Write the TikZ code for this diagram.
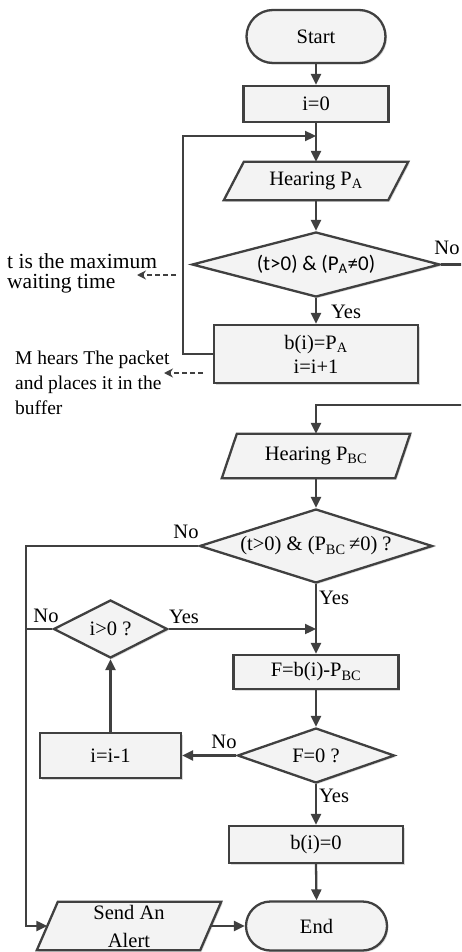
\documentclass[tikz,border=0pt]{standalone}
\usepackage{fontspec}
\setmainfont{Liberation Serif}
\newfontfamily\calib{Carlito}
\usetikzlibrary{arrows.meta,shapes.geometric,shadows,backgrounds}
\definecolor{lc}{HTML}{404040}
\definecolor{fl}{HTML}{F3F3F3}
\newcommand\parashape[2]{\draw[shp] ([xshift=#2pt]#1.north west) -- ([xshift=#2pt]#1.north east) -- ([xshift=-#2pt]#1.south east) -- ([xshift=-#2pt]#1.south west) -- cycle;}
\begin{document}
\begin{tikzpicture}[x=1pt,y=-1pt,
  every node/.style={font=\fontsize{20.5}{24}\selectfont, text=black},
  shp/.style={draw=lc, line width=2.3pt, fill=fl, drop shadow={shadow xshift=1.5pt,shadow yshift=-1.5pt,opacity=0.3}},
  box/.style={shp, rectangle, inner sep=0pt, align=center},
  term/.style={box, rounded corners=24pt},
  dia/.style={shp, diamond, inner sep=0pt},
  pbox/.style={rectangle, inner sep=0pt, align=center},
  arr/.style={draw=lc, line width=2.3pt, -{Triangle[length=11pt,width=10pt]}},
  wire/.style={draw=lc, line width=2.3pt},
  dsh/.style={draw=lc, line width=2.2pt, dash pattern=on 5pt off 3pt, -{Stealth[length=9pt,width=9pt]}},
  lbl/.style={inner sep=0pt}
]
\path[use as bounding box, clip] (0,0) rectangle (461,952);

% nodes
\node[term, minimum width=139pt, minimum height=53pt, rounded corners=26.5pt] (start) at (316,36.5) {Start};
\node[box, minimum width=145pt, minimum height=36pt] (i0) at (316,104) {i=0};
\node[pbox, minimum width=164pt, minimum height=38pt] (hA) at (316,181) {Hearing P\textsubscript{A}};
\node[dia, minimum width=248pt, minimum height=65pt, shape aspect=3.8, font=\calib\fontsize{21}{24}\selectfont] (d1) at (316,264.5) {(t>0) \& (P\textsubscript{A}≠0)};
\node[box, minimum width=204pt, minimum height=58pt] (bA) at (316,354) {b(i)=P\textsubscript{A}\\i=i+1};
\node[pbox, minimum width=173pt, minimum height=44pt] (hBC) at (316,456) {Hearing P\textsubscript{BC}};
\node[dia, minimum width=233pt, minimum height=74pt, shape aspect=3.15] (d2) at (316,546) {(t>0) \& (P\textsubscript{BC}\,≠0) ?};
\node[dia, minimum width=114pt, minimum height=58pt, shape aspect=1.97] (d3) at (110.5,629) {i>0 ?};
\node[box, minimum width=165pt, minimum height=34pt] (fB) at (316,672) {F=b(i)-P\textsubscript{BC}};
\node[dia, minimum width=157pt, minimum height=55pt, shape aspect=2.85] (d4) at (316,755.5) {F=0 ?};
\node[box, minimum width=141pt, minimum height=45pt] (dec) at (110.5,755.5) {i=i-1};
\node[box, minimum width=174pt, minimum height=37pt] (b0) at (316,844.5) {b(i)=0};
\node[term, minimum width=141pt, minimum height=49pt, rounded corners=24.5pt] (end) at (316.5,926) {End};
\node[pbox, minimum width=163pt, minimum height=48pt, font=\fontsize{20.5}{28}\selectfont] (alert) at (129,926) {Send An\\Alert};

\begin{pgfonlayer}{background}
\parashape{hA}{10}
\parashape{hBC}{7.5}
\parashape{alert}{10.5}
\end{pgfonlayer}

% annotations
\node[lbl, anchor=west, align=left, font=\fontsize{21.5}{20}\selectfont] (t1) at (7,273) {t is the maximum\\waiting time};
\node[lbl, anchor=west, align=left, font=\fontsize{19.5}{25}\selectfont] (m1) at (15,383) {M hears The packet\\and places it in the\\buffer};
\coordinate (da1s) at (176,275); \coordinate (da1e) at (137,275);
\coordinate (da2s) at (203,373); \coordinate (da2e) at (164,373);
\draw[dsh] (da1s) -- (da1e);
\draw[dsh] (da2s) -- (da2e);

% connectors
\coordinate (mA) at (316,136);
\coordinate (lpA) at (183,136);
\draw[arr] (start.south) -- (i0.north);
\draw[arr] (i0.south) -- (hA.north);
\draw[arr] (bA.west) -| (lpA) -- (mA);
\draw[arr] (hA.south) -- (d1.north);
\draw[arr] (d1.south) -- (bA.north);
\coordinate (rA) at (475,264.5);
\coordinate (rB) at (475,405);
\draw[arr] (d1.east) -- (rA) -- (rB) -| (hBC.north);
\draw[arr] (hBC.south) -- (d2.north);
\coordinate (lL) at (26,546);
\coordinate (lB) at (26,926);
\draw[arr] (d2.west) -- (lL) -- (lB) -- (alert.west);
\coordinate (mB) at (316,629);
\draw[arr] (d2.south) -- (fB.north);
\draw[arr] (d3.east) -- (mB);
\coordinate (lC) at (26,629);
\draw[wire] (d3.west) -- (lC);
\draw[arr] (fB.south) -- (d4.north);
\draw[arr] (d4.west) -- (dec.east);
\draw[arr] (dec.north) -- (d3.south);
\draw[arr] (d4.south) -- (b0.north);
\draw[arr] (b0.south) -- (end.north);
\draw[arr] (alert.east) -- (end.west);

% labels
\node[lbl] (no1) at (447,248) {No};
\node[lbl, anchor=west] (yes1) at (331,312) {Yes};
\node[lbl] (no2) at (186,532) {No};
\node[lbl, anchor=west] (yes2) at (319,598) {Yes};
\node[lbl] (no3) at (46,616) {No};
\node[lbl] (yes3) at (184,617) {Yes};
\node[lbl] (no4) at (224,742) {No};
\node[lbl, anchor=west] (yes4) at (319,796) {Yes};
\end{tikzpicture}
\end{document}
